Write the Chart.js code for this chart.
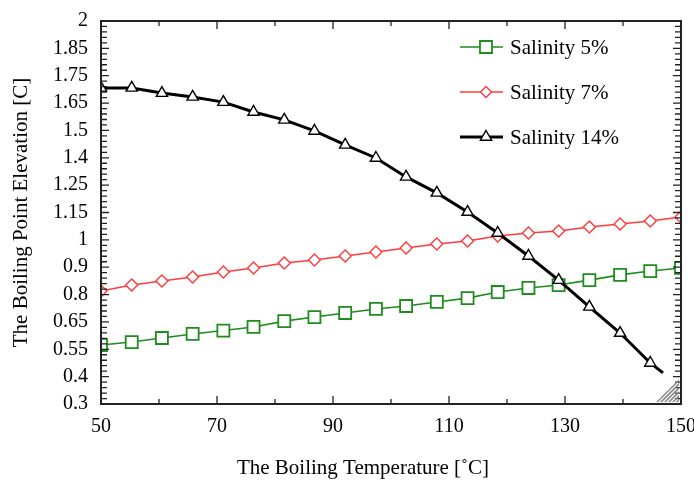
<!DOCTYPE html>
<html>
<head>
<meta charset="utf-8">
<script src="https://cdn.jsdelivr.net/npm/chart.js@4.4.1/dist/chart.umd.min.js"></script>
<style>
  html, body { margin: 0; padding: 0; background: #fff; }
</style>
</head>
<body>
<canvas id="bpeChart" width="694" height="484"></canvas>
<script>
// boiling temperature [°C] of each marker
const temps = [50, 55.3, 60.5, 65.8, 71.1, 76.3, 81.6, 86.8, 92.1, 97.4, 102.6, 107.9, 113.2, 118.4, 123.7, 128.9, 134.2, 139.5, 144.7, 150];
const temps14 = [50, 55.3, 60.5, 65.8, 71.1, 76.3, 81.6, 86.8, 92.1, 97.4, 102.6, 107.9, 113.2, 118.4, 123.7, 128.9, 134.2, 139.5, 144.7, 146.9];

// boiling point elevation [C]
const salinity5 = [0.562, 0.575, 0.593, 0.611, 0.626, 0.642, 0.668, 0.686, 0.704, 0.722, 0.735, 0.753, 0.770, 0.797, 0.815, 0.828, 0.850, 0.873, 0.890, 0.904];
const salinity7 = [0.802, 0.828, 0.846, 0.864, 0.886, 0.904, 0.926, 0.939, 0.957, 0.975, 0.992, 1.010, 1.023, 1.046, 1.059, 1.068, 1.086, 1.099, 1.112, 1.130];
const salinity14 = [1.703, 1.703, 1.680, 1.663, 1.640, 1.596, 1.561, 1.512, 1.450, 1.392, 1.308, 1.237, 1.152, 1.059, 0.957, 0.850, 0.731, 0.615, 0.482, 0.438];

const seriesNames = ['Salinity 5%', 'Salinity 7%', 'Salinity 14%'];
const yTickLabels = ['0.3', '0.4', '0.55', '0.65', '0.8', '0.9', '1', '1.15', '1.25', '1.4', '1.5', '1.65', '1.75', '1.85', '2'];
const xTitle = 'The Boiling Temperature [˚C]';
const yMin = 0.3, yMax = 2;
const xMin = 50, xMax = 150;

const serif = "'Liberation Serif', 'DejaVu Serif', serif";
const yStep = (yMax - yMin) / (yTickLabels.length - 1);

const toPoints = (xs, ys) => ys.map((v, i) => ({ x: xs[i], y: v }));

// frame, inward ticks, legend, x title and the hatched corner mark
const framePlugin = {
  id: 'frame',
  afterDraw(chart) {
    const { ctx, chartArea: a, scales } = chart;
    const xs = scales.x, ys = scales.y;
    ctx.save();
    ctx.strokeStyle = '#222';
    ctx.lineWidth = 1.3;
    ctx.beginPath();
    for (let v = xMin; v <= xMax + 1e-6; v += 10) {
      const px = xs.getPixelForValue(v);
      const len = (v - xMin) % 20 === 0 ? 8 : 5;
      ctx.moveTo(px, a.bottom); ctx.lineTo(px, a.bottom - len);
      ctx.moveTo(px, a.top); ctx.lineTo(px, a.top + len);
    }
    const minor = yStep / 5;
    for (let i = 0; i <= (yTickLabels.length - 1) * 5; i++) {
      const py = ys.getPixelForValue(yMin + i * minor);
      const len = i % 5 === 0 ? 8 : 6;
      ctx.moveTo(a.left, py); ctx.lineTo(a.left + len, py);
      ctx.moveTo(a.right, py); ctx.lineTo(a.right - len, py);
    }
    ctx.stroke();

    ctx.lineWidth = 2;
    ctx.strokeRect(a.left, a.top, a.right - a.left, a.bottom - a.top);

    // hatched corner
    ctx.save();
    ctx.beginPath();
    ctx.moveTo(a.right - 25, a.bottom - 2);
    ctx.lineTo(a.right - 2, a.bottom - 25);
    ctx.lineTo(a.right - 2, a.bottom - 2);
    ctx.closePath();
    ctx.clip();
    ctx.strokeStyle = '#8a8a8a';
    ctx.lineWidth = 1.6;
    ctx.beginPath();
    for (let k = 0; k < 30; k += 4) {
      ctx.moveTo(a.right - 30 + k, a.bottom);
      ctx.lineTo(a.right + k, a.bottom - 30);
    }
    ctx.stroke();
    ctx.restore();

    // x axis title (sits a little left of centre in the original)
    ctx.fillStyle = '#000';
    ctx.font = '21px ' + serif;
    ctx.textAlign = 'center';
    ctx.textBaseline = 'middle';
    ctx.fillText(xTitle, a.left + 262, a.bottom + 64);

    // legend
    const lx = a.right - 221;
    chart.data.datasets.forEach((ds, i) => {
      const ly = a.top + 26 + i * 45;
      ctx.strokeStyle = ds.borderColor;
      ctx.lineWidth = ds.borderWidth;
      ctx.beginPath();
      ctx.moveTo(lx, ly); ctx.lineTo(lx + 43, ly);
      ctx.stroke();
      ctx.fillStyle = '#fff';
      ctx.strokeStyle = ds.borderColor;
      ctx.lineWidth = ds.pointBorderWidth;
      Chart.helpers.drawPoint(ctx, {
        pointStyle: ds.pointStyle, rotation: 0,
        radius: ds.legendRadius, borderWidth: ds.pointBorderWidth
      }, lx + 26, ly);
      ctx.fillStyle = '#000';
      ctx.font = '21px ' + serif;
      ctx.textBaseline = 'middle';
      ctx.textAlign = 'left';
      ctx.fillText(ds.label, lx + 50, ly + 1);
    });
    ctx.restore();
  }
};

new Chart(document.getElementById('bpeChart'), {
  type: 'line',
  data: {
    datasets: [
      {
        label: seriesNames[0],
        data: toPoints(temps, salinity5),
        borderColor: '#1e8c1e',
        borderWidth: 1.6,
        pointStyle: 'rect',
        pointRadius: 8.5,
        legendRadius: 8.5,
        pointBackgroundColor: '#fff',
        pointBorderColor: '#1e8c1e',
        pointBorderWidth: 1.8,
        order: 2
      },
      {
        label: seriesNames[1],
        data: toPoints(temps, salinity7),
        borderColor: '#ff3b3b',
        borderWidth: 1.5,
        pointStyle: 'rectRot',
        pointRadius: 6,
        legendRadius: 5.5,
        pointBackgroundColor: '#fff',
        pointBorderColor: '#ff3b3b',
        pointBorderWidth: 1.4,
        order: 1
      },
      {
        label: seriesNames[2],
        data: toPoints(temps14, salinity14),
        borderColor: '#000',
        borderWidth: 3,
        pointStyle: 'triangle',
        pointRadius: salinity14.map((v, i) => i === salinity14.length - 1 ? 0 : 6.5),
        legendRadius: 6.5,
        pointBackgroundColor: '#fff',
        pointBorderColor: '#000',
        pointBorderWidth: 1.4,
        order: 0
      }
    ]
  },
  options: {
    responsive: false,
    animation: false,
    layout: { padding: { left: 0, right: 13, top: 21, bottom: 0 } },
    plugins: { legend: { display: false }, tooltip: { enabled: false } },
    elements: { line: { tension: 0 } },
    datasets: { line: { clip: 0 } },
    scales: {
      x: {
        type: 'linear',
        min: xMin,
        max: xMax,
        grid: { display: false, drawTicks: false },
        border: { display: false },
        ticks: { stepSize: 20, color: '#000', font: { family: serif, size: 20 }, padding: 11 },
        afterFit(scale) {
          scale.height = 80;
          scale.paddingLeft = 0;
          scale.paddingRight = 0;
        }
      },
      y: {
        type: 'linear',
        min: yMin,
        max: yMax,
        grid: { display: false, drawTicks: false },
        border: { display: false },
        afterBuildTicks(scale) {
          scale.ticks = yTickLabels.map((t, i) => ({ value: yMin + i * yStep }));
        },
        ticks: {
          color: '#000',
          font: { family: serif, size: 20 },
          padding: 13,
          callback: (v, i) => yTickLabels[i]
        },
        title: {
          display: true,
          text: 'The Boiling Point Elevation [C]',
          color: '#000',
          font: { family: serif, size: 21 },
          padding: { top: 9, bottom: 0 }
        },
        afterFit(scale) {
          scale.width = 101;
          scale.paddingTop = 0;
          scale.paddingBottom = 0;
        }
      }
    }
  },
  plugins: [framePlugin]
});
</script>
</body>
</html>
